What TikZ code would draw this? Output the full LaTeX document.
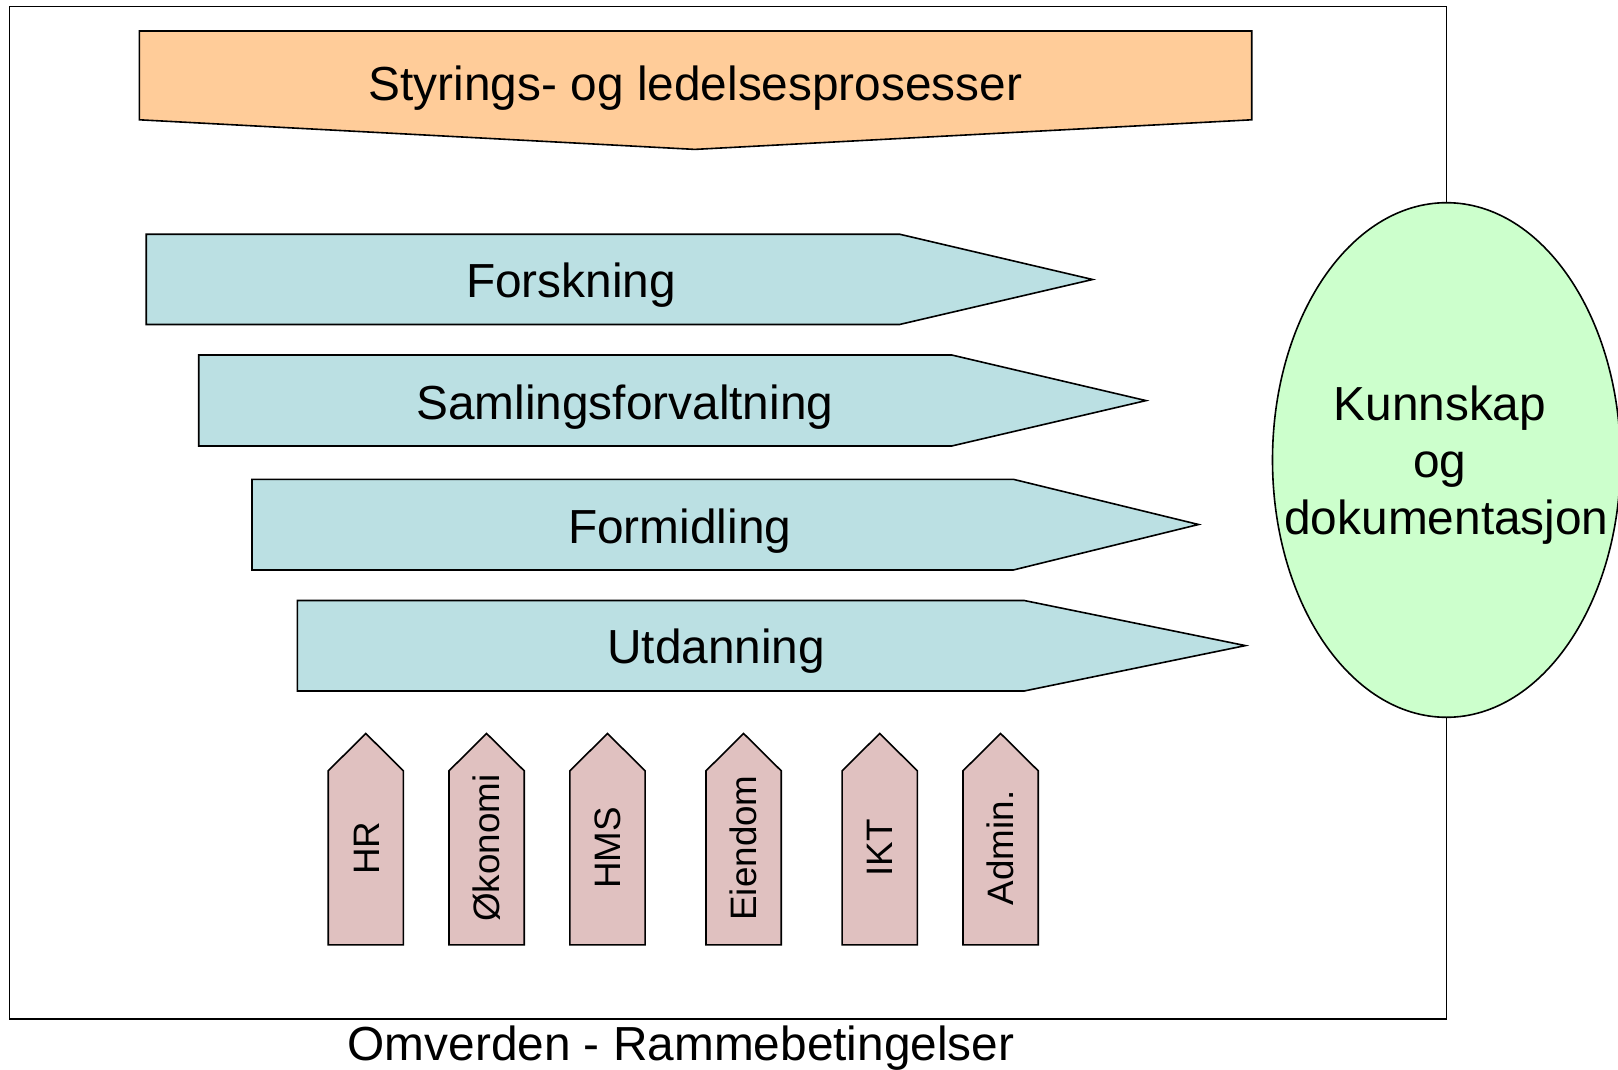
\documentclass[tikz,border=0pt]{standalone}
\usepackage{fontspec}
\setmainfont{Liberation Sans}
\definecolor{orangefill}{HTML}{FFCC99}
\definecolor{bluefill}{HTML}{BBE0E3}
\definecolor{greenfill}{HTML}{CCFFCC}
\definecolor{pinkfill}{HTML}{E0C1C0}
\begin{document}
\begin{tikzpicture}[x=1pt,y=-1pt,
  shapeline/.style={draw=black,line width=1.6pt,line join=miter},
  framebox/.style={draw=black,line width=1.3pt},
  bigtext/.style={inner sep=0pt,font=\fontsize{47.8}{57.4}\selectfont},
  smalltext/.style={inner sep=0pt,font=\fontsize{36.8}{44}\selectfont,rotate=90,anchor=base}]
\useasboundingbox (0,0) rectangle (1618,1070);
% frame
\draw[framebox] (9.3,6.5) rectangle (1446.5,1019);
% top process (orange)
\filldraw[shapeline,fill=orangefill] (139.3,31) -- (1251.7,31) -- (1251.7,119.8) -- (694.8,149.4) -- (139.3,119.8) -- cycle;
\node[bigtext,anchor=base west] (styr) at (368.6,100.9) {Styrings- og ledelsesprosesser};
% core processes (blue)
\filldraw[shapeline,fill=bluefill] (146.2,234.2) -- (899.5,234.2) -- (1092.6,279.5) -- (899.5,324.5) -- (146.2,324.5) -- cycle;
\node[bigtext,anchor=base west] (forsk) at (466,297.7) {Forskning};
\filldraw[shapeline,fill=bluefill] (198.7,355) -- (951.7,355) -- (1146,400.6) -- (951.7,446) -- (198.7,446) -- cycle;
\node[bigtext,anchor=base west] (saml) at (416,419.3) {Samlingsforvaltning};
\filldraw[shapeline,fill=bluefill] (252,479.3) -- (1013.3,479.3) -- (1198.5,524.5) -- (1013.3,570) -- (252,570) -- cycle;
\node[bigtext,anchor=base west] (form) at (568,543.3) {Formidling};
\filldraw[shapeline,fill=bluefill] (297.3,600.5) -- (1024.2,600.5) -- (1245.4,645.6) -- (1024.2,691) -- (297.3,691) -- cycle;
\node[bigtext,anchor=base west] (utd) at (607,663.3) {Utdanning};
% support processes (pink)
\foreach \cx/\nm/\txt in {365.8/hr/HR, 486.6/okon/Økonomi, 607.5/hms/HMS, 743.6/eien/Eiendom, 879.7/ikt/IKT, 1000.6/admin/Admin.}{
  \filldraw[shapeline,fill=pinkfill] (\cx-37.6,944.8) -- (\cx-37.6,770.8) -- (\cx,733.5) -- (\cx+37.6,770.8) -- (\cx+37.6,944.8) -- cycle;
  \node[smalltext] (\nm) at (\cx+13.2,848) {\txt};
}
% knowledge ellipse
\filldraw[draw=black,line width=1.6pt,fill=greenfill] (1446.5,460) ellipse [x radius=174,y radius=257.3];
\node[bigtext,anchor=base] (k1) at (1446.5,420.8) {Kunnskap\kern0.278em};
\node[bigtext,anchor=base] (k2) at (1446.5,477.6) {og\kern0.278em};
\node[bigtext,anchor=base] (k3) at (1446.5,534.4) {dokumentasjon};
% bottom label
\node[bigtext,anchor=base west] (omv) at (347.4,1060.3) {Omverden - Rammebetingelser};
\end{tikzpicture}
\end{document}
